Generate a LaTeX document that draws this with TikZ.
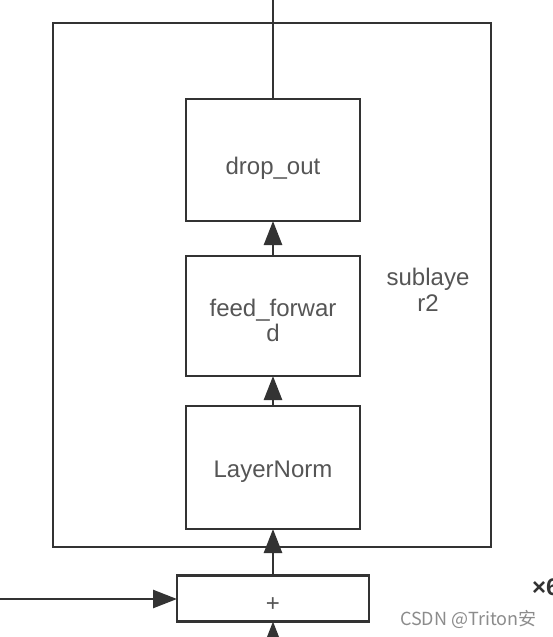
\documentclass[tikz,border=0pt]{standalone}
\usepackage{fontspec}
\setmainfont{Liberation Sans}
\newfontfamily\cjk{Noto Sans CJK SC}
\usetikzlibrary{arrows.meta}
\definecolor{ln}{HTML}{333333}
\definecolor{tx}{HTML}{555555}
\definecolor{wm}{HTML}{8C8C8C}
\begin{document}
\begin{tikzpicture}[x=1pt,y=-1pt,
  blk/.style={draw=ln,line width=2.6pt,fill=white,minimum width=174pt,inner sep=0pt,outer sep=0pt,
    font=\fontsize{24}{25}\selectfont,text=tx,align=center},
  conn/.style={draw=ln,line width=2.6pt},
  arr/.style={conn,-{Triangle[length=24pt,width=18pt]}}]
\useasboundingbox (0,0) rectangle (553,637);
\fill[white] (0,0) rectangle (553,637);
\node[draw=ln,line width=2.6pt,minimum width=438pt,minimum height=524pt,inner sep=0pt,outer sep=0pt] (sub) at (272,285) {};
\node[blk,minimum height=122pt,text height=33pt,text depth=5pt] (drop) at (273,160) {drop\_out};
\node[blk,minimum height=120pt,text height=51pt,text depth=0pt] (ff) at (273,316) {feed\_forwar\\d};
\node[blk,minimum height=123pt,text height=24pt,text depth=5pt] (ln) at (273,467.5) {LayerNorm};
\node[blk,minimum width=192pt,minimum height=46pt,text height=26pt,text depth=0pt] (plus) at (273,598.5) {+};
\node[font=\fontsize{24}{26}\selectfont,text=tx,align=center] (lbl) at (428,290) {sublaye\\r2};
\coordinate (top) at (273,-5);
\coordinate (left) at (-5,599);
\coordinate (bot) at (273,680);
\draw[conn] (drop.north) -- (top);
\draw[arr] (ff) -- (drop);
\draw[arr] (ln) -- (ff);
\draw[arr] (plus) -- (ln);
\draw[arr] (left) -- (plus.west |- left);
\draw[arr] (bot) -- (plus);
\node[anchor=west,inner sep=0pt,font=\bfseries\fontsize{24}{26}\selectfont,text=ln] (x6) at (532,587) {×6};
\node[anchor=west,inner sep=0pt,font=\cjk\fontsize{18}{20}\selectfont,text=wm] (wmk) at (400,619) {CSDN @Triton安};
\end{tikzpicture}
\end{document}
